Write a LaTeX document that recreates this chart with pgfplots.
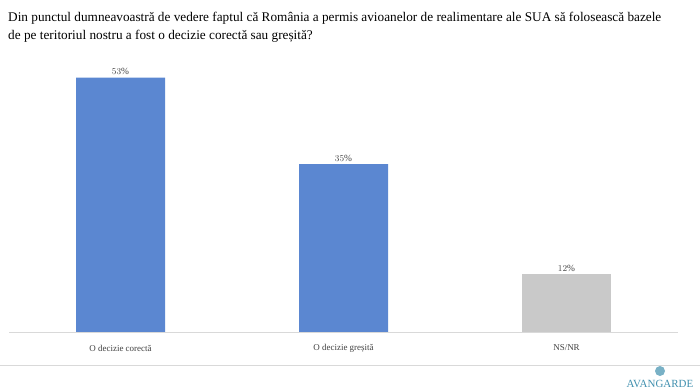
\documentclass[border=0pt]{standalone}
\usepackage{pgfplots}
\pgfplotsset{compat=1.18}
\usepackage{fontspec}
\setmainfont{Liberation Serif}
\definecolor{barblue}{HTML}{5B87D1}
\definecolor{bargray}{HTML}{C9C9C9}
\definecolor{txtgray}{HTML}{404040}
\definecolor{linegray}{HTML}{D9D9D9}
\definecolor{logoteal}{HTML}{3F8FAE}
\begin{document}
\begin{tikzpicture}[x=1bp,y=1bp]
\path[use as bounding box] (0,0) rectangle (700,390);
\node[anchor=north west, align=left, inner sep=0pt, font=\fontsize{13.3}{18}\selectfont, text=black] at (8,378)
{Din punctul dumneavoastră de vedere faptul că România a permis avioanelor de realimentare ale SUA să folosească bazele\\de pe teritoriul nostru a fost o decizie corectă sau greșită?};
\begin{axis}[
  at={(9bp,58bp)}, anchor=south west,
  scale only axis, width=669bp, height=288bp,
  xmin=-0.5, xmax=2.5, ymin=0, ymax=60,
  axis lines=none,
  ybar, bar width=89bp, bar shift=0pt,
  xtick=\empty, ytick=\empty,
  clip=false,
  nodes near coords={\pgfmathprintnumber{\pgfplotspointmeta}\%},
  every node near coord/.append style={font=\fontsize{9.5}{10}\selectfont, text=txtgray, yshift=-1bp},
]
\addplot[draw=none, fill=barblue] coordinates {(0,53) (1,35)};
\addplot[draw=none, fill=bargray] coordinates {(2,12)};
\draw[linegray, line width=0.8bp] (axis cs:-0.5,0) -- (axis cs:2.5,0);
\node[font=\fontsize{9}{10}\selectfont, text=txtgray] at (axis cs:0,0) [yshift=-16bp] {O decizie corectă};
\node[font=\fontsize{9}{10}\selectfont, text=txtgray] at (axis cs:1,0) [yshift=-16bp] {O decizie greșită};
\node[font=\fontsize{9}{10}\selectfont, text=txtgray] at (axis cs:2,0) [yshift=-16bp] {NS/NR};
\end{axis}
\draw[linegray, line width=1bp] (0,25) -- (700,25);
\fill[logoteal!70] (660,19) circle (5);
\node[font=\fontsize{11}{12}\selectfont, text=logoteal, inner sep=0pt] at (660,6) {AVANGARDE};
\end{tikzpicture}
\end{document}
